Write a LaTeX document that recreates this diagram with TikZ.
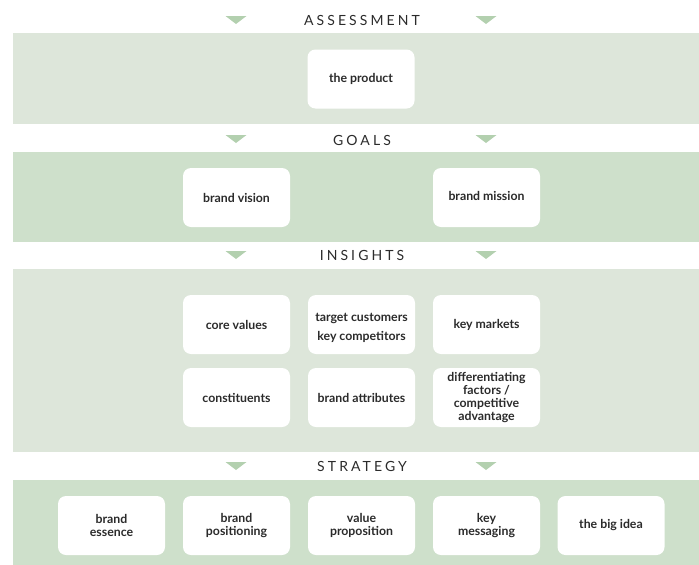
\documentclass[tikz,border=0pt]{standalone}
\usepackage{fontspec}
\setmainfont{Lato}
\newfontfamily\headfont[LetterSpace=22]{Lato}
\definecolor{bandlight}{HTML}{DDE6DA}
\definecolor{banddark}{HTML}{CEE0CB}
\definecolor{tri}{HTML}{B3D0AF}
\definecolor{ink}{HTML}{2B2B2B}
\tikzset{
  card/.style={rounded corners=8pt, fill=white, minimum width=107pt, minimum height=59pt,
    inner sep=2pt, align=center, text=ink, font=\bfseries\fontsize{12.3}{13.3}\selectfont},
  head/.style={text=ink, inner sep=0pt, font=\headfont\fontsize{14}{16}\selectfont},
  marker/.style={fill=tri},
}
\newcommand{\stagemarkers}[1]{%
  \fill[marker] (225.5,#1-4) -- (246.5,#1-4) -- (236,#1+4) -- cycle;
  \fill[marker] (475.5,#1-4) -- (496.5,#1-4) -- (486,#1+4) -- cycle;}
\begin{document}
\begin{tikzpicture}[x=1pt,y=-1pt]
\useasboundingbox (0,0) rectangle (699,565);
% stage bands
\fill[bandlight] (13,33) rectangle (699,124);
\fill[banddark] (13,152) rectangle (699,242);
\fill[bandlight] (13,269) rectangle (699,452);
\fill[banddark] (13,480) rectangle (699,565);
% stage headings with markers
\stagemarkers{20}
\node[head] (assessment) at (362,20) {ASSESSMENT};
\stagemarkers{139}
\node[head] (goals) at (362,140) {GOALS};
\stagemarkers{255}
\node[head] (insights) at (362,255) {INSIGHTS};
\stagemarkers{466}
\node[head] (strategy) at (362,466) {STRATEGY};
% assessment
\node[card] (product) at (361,79) {the product};
% goals
\node[card] (vision) at (236.5,197.5) {brand vision};
\node[card] (mission) at (486.5,197.5) {\raisebox{3pt}{brand mission}};
% insights
\node[card] (values) at (236.5,324.5) {core values};
\node[card] (customers) at (361.5,324.5) {\rule{0pt}{15pt}target customers\\[6pt]key competitors};
\node[card] (markets) at (486.5,324.5) {key markets};
\node[card] (constituents) at (236.5,397.5) {constituents};
\node[card] (attributes) at (361.5,397.5) {brand attributes};
\node[card] (factors) at (486.5,397.5) {differentiating\\factors /\\competitive\\advantage};
% strategy
\node[card] (essence) at (111.5,525.5) {brand\\essence};
\node[card] (positioning) at (236.5,525.5) {brand\\positioning};
\node[card] (proposition) at (361.5,525.5) {value\\proposition};
\node[card] (messaging) at (486.5,525.5) {key\\messaging};
\node[card] (bigidea) at (611,525.5) {the big idea};
\end{tikzpicture}
\end{document}
